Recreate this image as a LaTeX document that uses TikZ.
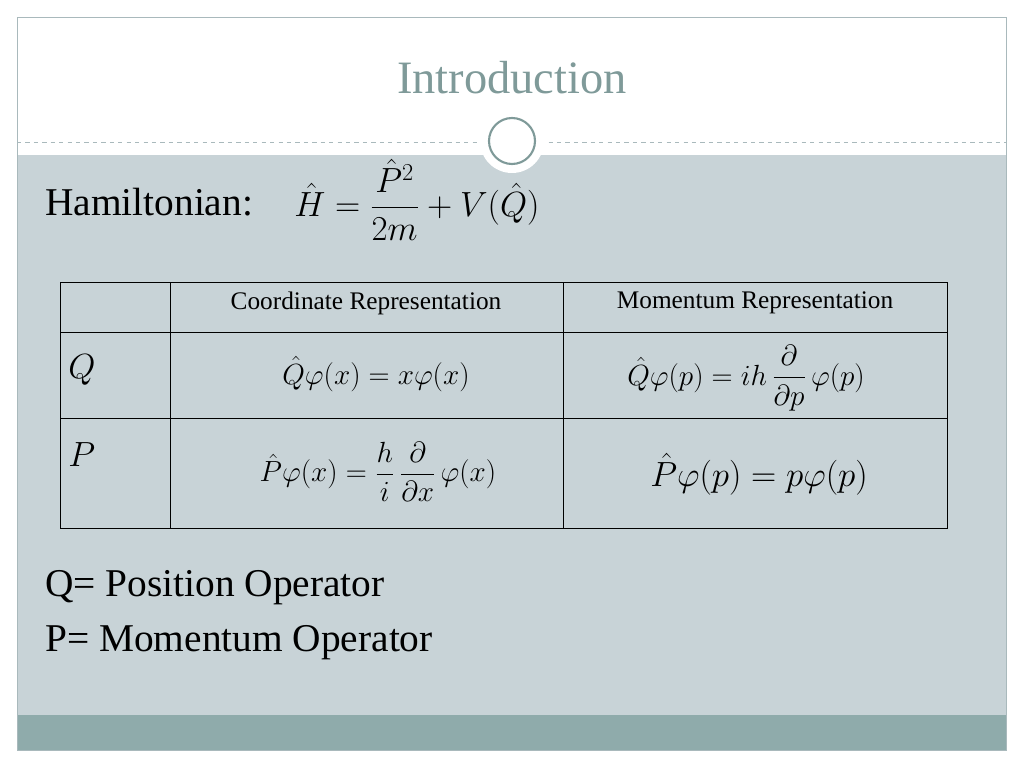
\documentclass[tikz,border=0pt]{standalone}
\usepackage{amsmath}
\usepackage{fontspec}
\setmainfont{Liberation Serif}
\usetikzlibrary{positioning}
\definecolor{slidebg}{HTML}{C8D3D7}
\definecolor{stripbg}{HTML}{8FABAB}
\definecolor{titlecol}{HTML}{7F9A99}
\definecolor{framecol}{HTML}{A9B9BC}
\newcommand{\fs}[1]{\fontsize{#1}{1.2\dimexpr #1\relax}\selectfont}
\tikzset{
  cell/.style={anchor=center, inner sep=0pt},
  bigtext/.style={anchor=west, inner sep=0pt, font=\fs{28pt}},
}
\begin{document}
\begin{tikzpicture}[x=0.025cm,y=-0.025cm]
        \useasboundingbox (0,0) rectangle (1024,768);
        \fill[white] (0,0) rectangle (1024,768);
        \fill[slidebg] (17,155) rectangle (1006,715);
        \fill[stripbg] (17,715) rectangle (1006,750);
        \draw[framecol] (17,17) rectangle (1006,750);
        \draw[framecol, dashed] (17,142) -- (1006,142);
        \fill[white] (512,141) circle (32);
        \draw[titlecol, line width=1.5pt] (512,141) circle (23);

        \node[cell, text=titlecol, font=\fs{33pt}] (title) at (512,78) {Introduction};
        \node[bigtext] (ham) at (45,202) {Hamiltonian:};
        \node[cell, anchor=west, font=\fs{27pt}] (hameq) at (294,200)
          {$\hat H=\dfrac{\hat P^2}{2m}+V(\hat Q)$};

        % table
        \draw[black] (60,282) rectangle (947,528);
        \foreach \x in {170,563} \draw (\x,282) -- (\x,528);
        \foreach \y in {332,418} \draw (60,\y) -- (947,\y);

        \node[cell, font=\fs{18pt}] (hcoord) at (366,303) {Coordinate Representation};
        \node[cell, font=\fs{18pt}] (hmom) at (755,303) {Momentum Representation};
        \node[cell, anchor=west, font=\fs{34pt}] (rq) at (68,370) {$Q$};
        \node[cell, anchor=west, font=\fs{34pt}] (rp) at (68,455) {$P$};
        \node[cell, font=\fs{22pt}] (qx) at (376,374) {$\hat Q\varphi(x)=x\varphi(x)$};
        \node[cell, font=\fs{22pt}] (qp) at (746,378) {$\hat Q\varphi(p)=ih\,\dfrac{\partial}{\partial p}\,\varphi(p)$};
        \node[cell, font=\fs{22pt}] (px) at (378,472) {$\hat P\varphi(x)=\dfrac{h}{i}\,\dfrac{\partial}{\partial x}\,\varphi(x)$};
        \node[cell, font=\fs{24pt}] (pp) at (759,474) {$\hat P\varphi(p)=p\varphi(p)$};

        \node[bigtext] (qop) at (45,588) {Q= Position Operator};
        \node[bigtext] (pop) at (45,643) {P= Momentum Operator};
\end{tikzpicture}
\end{document}
